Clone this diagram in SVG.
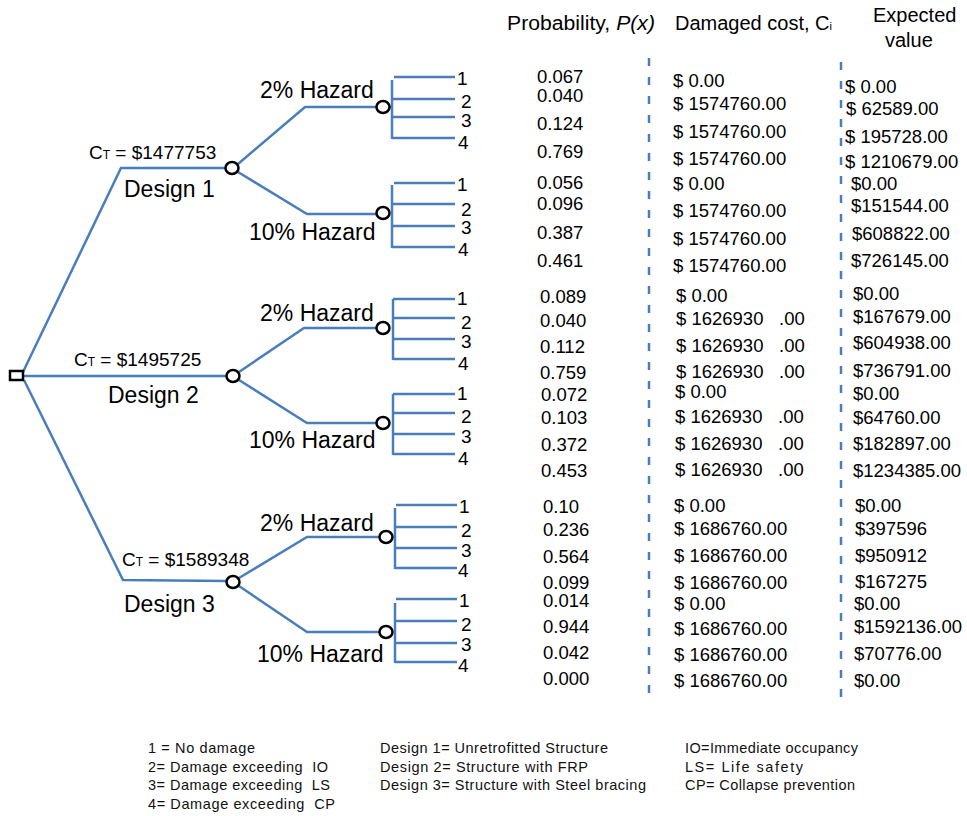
<svg xmlns="http://www.w3.org/2000/svg" width="967" height="816" viewBox="0 0 967 816">
<style>
.ln{fill:none;stroke:#4a7ebb;stroke-width:2.5;stroke-linejoin:miter}
.dash{fill:none;stroke:#4a7ebb;stroke-width:2.5;stroke-dasharray:8 11}
.nd{fill:#fff;stroke:#000;stroke-width:2.5}
text{font-family:"Liberation Sans",Arial,sans-serif;fill:#000}
.hz{font-size:23px}
.ds{font-size:23px}
.ct{font-size:19px}
.sub{font-size:12px}
.lf{font-size:19px}
.dt{font-size:18.5px}
.hd{font-size:20px}
.lg{font-size:14.5px;fill:#111}
</style>
<g id="connectors">
  <polyline class="ln" points="23,372 121,168 226,168"/>
  <line class="ln" x1="24" y1="376" x2="226" y2="376"/>
  <polyline class="ln" points="24,380 123,580 226,581"/>
  <polyline class="ln" points="238,164 305,107 377,107"/>
  <polyline class="ln" points="238,172 307,214 376,214"/>
  <polyline class="ln" points="239,372 304,328 377,328"/>
  <polyline class="ln" points="239,380 307,423 376,423"/>
  <polyline class="ln" points="239,578 307,537 380,537"/>
  <polyline class="ln" points="239,586 307,632 380,632"/>
  <line class="ln" x1="389" y1="107" x2="392" y2="107"/>
  <line class="ln" x1="392" y1="80" x2="392" y2="139"/>
  <line class="ln" x1="394" y1="77" x2="455" y2="77"/>
  <line class="ln" x1="392" y1="99" x2="455" y2="99"/>
  <line class="ln" x1="392" y1="117" x2="455" y2="117"/>
  <line class="ln" x1="392" y1="138" x2="455" y2="138"/>
  <line class="ln" x1="392" y1="185" x2="392" y2="248"/>
  <line class="ln" x1="394" y1="183" x2="455" y2="183"/>
  <line class="ln" x1="392" y1="204" x2="455" y2="204"/>
  <line class="ln" x1="392" y1="226" x2="455" y2="226"/>
  <line class="ln" x1="392" y1="247" x2="455" y2="247"/>
  <line class="ln" x1="393" y1="299" x2="393" y2="360"/>
  <line class="ln" x1="393" y1="299" x2="455" y2="299"/>
  <line class="ln" x1="393" y1="318" x2="455" y2="318"/>
  <line class="ln" x1="393" y1="339" x2="455" y2="339"/>
  <line class="ln" x1="393" y1="359" x2="455" y2="359"/>
  <line class="ln" x1="393" y1="394" x2="393" y2="455"/>
  <line class="ln" x1="393" y1="394" x2="455" y2="394"/>
  <line class="ln" x1="393" y1="413" x2="455" y2="413"/>
  <line class="ln" x1="393" y1="434" x2="455" y2="434"/>
  <line class="ln" x1="393" y1="454" x2="455" y2="454"/>
  <line class="ln" x1="395" y1="508" x2="395" y2="569"/>
  <line class="ln" x1="396" y1="505" x2="457" y2="505"/>
  <line class="ln" x1="395" y1="527" x2="457" y2="527"/>
  <line class="ln" x1="395" y1="548" x2="457" y2="548"/>
  <line class="ln" x1="395" y1="568" x2="457" y2="568"/>
  <line class="ln" x1="395" y1="603" x2="395" y2="663"/>
  <line class="ln" x1="396" y1="599" x2="457" y2="599"/>
  <line class="ln" x1="395" y1="621" x2="457" y2="621"/>
  <line class="ln" x1="395" y1="643" x2="457" y2="643"/>
  <line class="ln" x1="395" y1="662" x2="457" y2="662"/>
</g>

<g id="root">
  <rect class="nd" x="10" y="371" width="13" height="9"/>
</g>

<g id="design1">
  <ellipse class="nd" cx="232" cy="168" rx="6.5" ry="6"/>
  <text class="ct" x="89" y="159">C<tspan class="sub">T</tspan> = $1477753</text>
  <text class="ds" x="124" y="197">Design 1</text>
</g>
<g id="d1-haz2">
  <ellipse class="nd" cx="383" cy="107" rx="6.5" ry="6"/>
  <text class="hz" x="260" y="98">2% Hazard</text>
</g>
<g id="d1-haz10">
  <ellipse class="nd" cx="383" cy="213" rx="6.5" ry="6"/>
  <text class="hz" x="249" y="240">10% Hazard</text>
</g>
<g id="d1-outcomes">
  <text class="lf" x="457" y="85">1</text>
  <text class="lf" x="461" y="108">2</text>
  <text class="lf" x="461" y="127">3</text>
  <text class="lf" x="458" y="149">4</text>
  <text class="lf" x="457" y="191">1</text>
  <text class="lf" x="461" y="216">2</text>
  <text class="lf" x="461" y="234">3</text>
  <text class="lf" x="458" y="256">4</text>
</g>

<g id="design2">
  <ellipse class="nd" cx="233" cy="376" rx="6.5" ry="6"/>
  <text class="ct" x="74" y="366">C<tspan class="sub">T</tspan> = $1495725</text>
  <text class="ds" x="108" y="403">Design 2</text>
</g>
<g id="d2-haz2">
  <ellipse class="nd" cx="383" cy="328" rx="6.5" ry="6"/>
  <text class="hz" x="260" y="321">2% Hazard</text>
</g>
<g id="d2-haz10">
  <ellipse class="nd" cx="383" cy="423" rx="6.5" ry="6"/>
  <text class="hz" x="249" y="448">10% Hazard</text>
</g>
<g id="d2-outcomes">
  <text class="lf" x="457" y="305">1</text>
  <text class="lf" x="461" y="329">2</text>
  <text class="lf" x="461" y="348">3</text>
  <text class="lf" x="458" y="370">4</text>
  <text class="lf" x="457" y="400">1</text>
  <text class="lf" x="461" y="423">2</text>
  <text class="lf" x="461" y="443">3</text>
  <text class="lf" x="458" y="465">4</text>
</g>

<g id="design3">
  <ellipse class="nd" cx="233" cy="582" rx="6.5" ry="6"/>
  <text class="ct" x="122" y="566">C<tspan class="sub">T</tspan> = $1589348</text>
  <text class="ds" x="124" y="612">Design 3</text>
</g>
<g id="d3-haz2">
  <ellipse class="nd" cx="386" cy="537" rx="6.5" ry="6"/>
  <text class="hz" x="260" y="531">2% Hazard</text>
</g>
<g id="d3-haz10">
  <ellipse class="nd" cx="386" cy="632" rx="6.5" ry="6"/>
  <text class="hz" x="257" y="662">10% Hazard</text>
</g>
<g id="d3-outcomes">
  <text class="lf" x="459" y="513">1</text>
  <text class="lf" x="461" y="537">2</text>
  <text class="lf" x="461" y="557">3</text>
  <text class="lf" x="458" y="577">4</text>
  <text class="lf" x="459" y="607">1</text>
  <text class="lf" x="461" y="631">2</text>
  <text class="lf" x="461" y="651">3</text>
  <text class="lf" x="458" y="672">4</text>
</g>

<g id="table">
  <text class="hd" x="507" y="30" textLength="148" lengthAdjust="spacingAndGlyphs">Probability, <tspan font-style="italic">P(x)</tspan></text>
  <text class="hd" x="675" y="30">Damaged cost, C<tspan font-size="11px">i</tspan></text>
  <text class="hd" x="873" y="22">Expected</text>
  <text class="hd" x="885" y="47">value</text>
  <line class="dash" x1="649" y1="58" x2="649" y2="698"/>
  <line class="dash" x1="841" y1="62" x2="841" y2="698"/>

  <text class="dt" x="537" y="83">0.067</text>
  <text class="dt" x="537" y="102">0.040</text>
  <text class="dt" x="537" y="130">0.124</text>
  <text class="dt" x="537" y="158">0.769</text>
  <text class="dt" x="537" y="189">0.056</text>
  <text class="dt" x="537" y="210">0.096</text>
  <text class="dt" x="537" y="239">0.387</text>
  <text class="dt" x="537" y="267">0.461</text>

  <text class="dt" x="673" y="87">$ 0.00</text>
  <text class="dt" x="673" y="110">$ 1574760.00</text>
  <text class="dt" x="673" y="138">$ 1574760.00</text>
  <text class="dt" x="673" y="165">$ 1574760.00</text>
  <text class="dt" x="673" y="190">$ 0.00</text>
  <text class="dt" x="673" y="217">$ 1574760.00</text>
  <text class="dt" x="673" y="245">$ 1574760.00</text>
  <text class="dt" x="673" y="272">$ 1574760.00</text>

  <text class="dt" x="845" y="93">$ 0.00</text>
  <text class="dt" x="846" y="115">$ 62589.00</text>
  <text class="dt" x="845" y="143">$ 195728.00</text>
  <text class="dt" x="845" y="168">$ 1210679.00</text>
  <text class="dt" x="851" y="190">$0.00</text>
  <text class="dt" x="851" y="212">$151544.00</text>
  <text class="dt" x="852" y="240">$608822.00</text>
  <text class="dt" x="851" y="267">$726145.00</text>

  <text class="dt" x="540" y="303">0.089</text>
  <text class="dt" x="540" y="327">0.040</text>
  <text class="dt" x="540" y="353">0.112</text>
  <text class="dt" x="540" y="379">0.759</text>
  <text class="dt" x="541" y="401">0.072</text>
  <text class="dt" x="541" y="424">0.103</text>
  <text class="dt" x="541" y="451">0.372</text>
  <text class="dt" x="541" y="477">0.453</text>

  <text class="dt" x="676" y="302">$ 0.00</text>
  <text class="dt" x="676" y="325">$ 1626930<tspan x="779">.00</tspan></text>
  <text class="dt" x="676" y="352">$ 1626930<tspan x="779">.00</tspan></text>
  <text class="dt" x="676" y="378">$ 1626930<tspan x="779">.00</tspan></text>
  <text class="dt" x="675" y="398">$ 0.00</text>
  <text class="dt" x="675" y="423">$ 1626930<tspan x="778">.00</tspan></text>
  <text class="dt" x="675" y="450">$ 1626930<tspan x="778">.00</tspan></text>
  <text class="dt" x="675" y="476">$ 1626930<tspan x="778">.00</tspan></text>

  <text class="dt" x="853" y="300">$0.00</text>
  <text class="dt" x="853" y="323">$167679.00</text>
  <text class="dt" x="853" y="349">$604938.00</text>
  <text class="dt" x="853" y="377">$736791.00</text>
  <text class="dt" x="853" y="400">$0.00</text>
  <text class="dt" x="853" y="424">$64760.00</text>
  <text class="dt" x="853" y="450">$182897.00</text>
  <text class="dt" x="853" y="477">$1234385.00</text>

  <text class="dt" x="543" y="513">0.10</text>
  <text class="dt" x="543" y="536">0.236</text>
  <text class="dt" x="543" y="563">0.564</text>
  <text class="dt" x="543" y="589">0.099</text>
  <text class="dt" x="543" y="607">0.014</text>
  <text class="dt" x="543" y="633">0.944</text>
  <text class="dt" x="543" y="659">0.042</text>
  <text class="dt" x="543" y="685">0.000</text>

  <text class="dt" x="674" y="512">$ 0.00</text>
  <text class="dt" x="674" y="535">$ 1686760.00</text>
  <text class="dt" x="674" y="562">$ 1686760.00</text>
  <text class="dt" x="674" y="589">$ 1686760.00</text>
  <text class="dt" x="674" y="610">$ 0.00</text>
  <text class="dt" x="674" y="635">$ 1686760.00</text>
  <text class="dt" x="674" y="661">$ 1686760.00</text>
  <text class="dt" x="674" y="687">$ 1686760.00</text>

  <text class="dt" x="855" y="512">$0.00</text>
  <text class="dt" x="855" y="535">$397596</text>
  <text class="dt" x="855" y="562">$950912</text>
  <text class="dt" x="855" y="588">$167275</text>
  <text class="dt" x="854" y="610">$0.00</text>
  <text class="dt" x="854" y="633">$1592136.00</text>
  <text class="dt" x="854" y="660">$70776.00</text>
  <text class="dt" x="854" y="687">$0.00</text>
</g>

<g id="legend">
  <text class="lg" x="148" y="753" textLength="107" lengthAdjust="spacing">1 = No damage</text>
  <text class="lg" x="148" y="772" textLength="180" lengthAdjust="spacing" xml:space="preserve">2= Damage exceeding  IO</text>
  <text class="lg" x="148" y="790" textLength="182" lengthAdjust="spacing" xml:space="preserve">3= Damage exceeding  LS</text>
  <text class="lg" x="148" y="809" textLength="187" lengthAdjust="spacing" xml:space="preserve">4= Damage exceeding  CP</text>
  <text class="lg" x="380" y="753" textLength="228" lengthAdjust="spacing">Design 1= Unretrofitted Structure</text>
  <text class="lg" x="380" y="772" textLength="208" lengthAdjust="spacing">Design 2= Structure with FRP</text>
  <text class="lg" x="380" y="790" textLength="266" lengthAdjust="spacing">Design 3= Structure with Steel bracing</text>
  <text class="lg" x="685" y="753" textLength="173" lengthAdjust="spacing">IO=Immediate occupancy</text>
  <text class="lg" x="685" y="772" textLength="118" lengthAdjust="spacing">LS= Life safety</text>
  <text class="lg" x="685" y="790" textLength="170" lengthAdjust="spacing">CP= Collapse prevention</text>
</g>
</svg>
